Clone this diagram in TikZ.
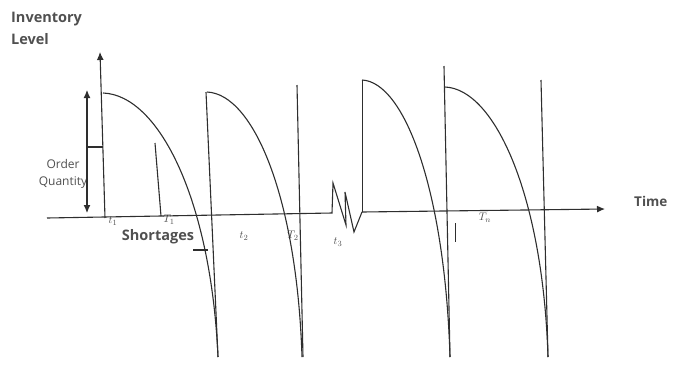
\documentclass[tikz,border=0pt]{standalone}
\usepackage{fontspec}
\setmainfont{Open Sans}
\usetikzlibrary{arrows.meta}
\definecolor{ln}{HTML}{2E2E2E}
\definecolor{tx}{HTML}{505050}
\begin{document}
\begin{tikzpicture}[x=1pt,y=-1pt,
  curve/.style={draw=ln,line width=1.1pt},
  vline/.style={draw=ln,line width=1.1pt},
  axis/.style={draw=ln,line width=1.1pt,-{Latex[length=8pt,width=7pt]}},
  lbl/.style={text=tx,font=\bfseries\fontsize{14.5}{15}\selectfont,inner sep=0pt,align=left},
  small/.style={text=tx,font=\fontsize{12}{17}\selectfont,inner sep=0pt,align=center},
  sym/.style={text=tx,font=\fontsize{11}{11}\selectfont,inner sep=0pt}]
\useasboundingbox (0,0) rectangle (681,368);
% texts
\node[lbl,anchor=west] (inv) at (11,19) {Inventory};
\node[lbl,anchor=west] (lev) at (11,39) {Level};
\node[lbl,anchor=west,font=\bfseries\fontsize{13.5}{15}\selectfont] (time) at (634,201) {Time};
\node[small] (oq) at (63,174) {Order\\Quantity};
\node[text=tx,font=\bfseries\fontsize{14.5}{15}\selectfont,inner sep=0pt] (sh) at (158,237) {Shortages};
\node[sym] (t1) at (113,221) {$t_1$};
\node[sym] (T1) at (169,220) {$T_1$};
\node[sym] (t2) at (244,236) {$t_2$};
\node[sym] (T2) at (293,236) {$T_2$};
\node[sym] (t3) at (338,242) {$t_3$};
\node[sym] (Tn) at (485,218) {$T_n$};
% axes
\coordinate (ax0) at (47,218);
\coordinate (ax1) at (332,213);
\coordinate (ax2) at (362,212);
\coordinate (ax3) at (605,209);
\draw[ln,line width=1.1pt] (ax0) -- (ax1) -- (333,183) -- (346,225) -- (345,192) -- (354,232) -- (ax2);
\draw[axis] (ax2) -- (ax3);
\draw[axis] (105,218) -- (100,52);
% order quantity
\draw[draw=ln,line width=1.1pt,{Latex[length=8pt,width=7pt]}-{Latex[length=8pt,width=7pt]}] (87,90) -- (87,213);
\draw[vline] (88,147) -- (103,147);
% cycle 1
\draw[curve] (103,93) .. controls (159,95) and (211,200) .. (218,357);
\draw[vline] (155,143) -- (161,216);
% cycle 2
\draw[vline] (206,92) -- (218,357);
\draw[curve] (207,92) .. controls (254,94) and (297,199) .. (302,357);
\draw[vline] (297,85) -- (303,357);
% cycle 3
\draw[draw=ln,line width=0.9pt] (362,212) -- (362,80);
\draw[curve] (362,80) .. controls (405,82) and (445,192) .. (450,357);
\draw[vline] (444,66) -- (450,357);
% cycle 4
\draw[curve] (445,87) .. controls (495,89) and (543,196) .. (548,357);
\draw[vline] (541,80) -- (548,357);
% ticks
\draw[vline] (193,250) -- (208,250);
\draw[draw=ln,line width=0.8pt] (455,223) -- (455,242);
\end{tikzpicture}
\end{document}
